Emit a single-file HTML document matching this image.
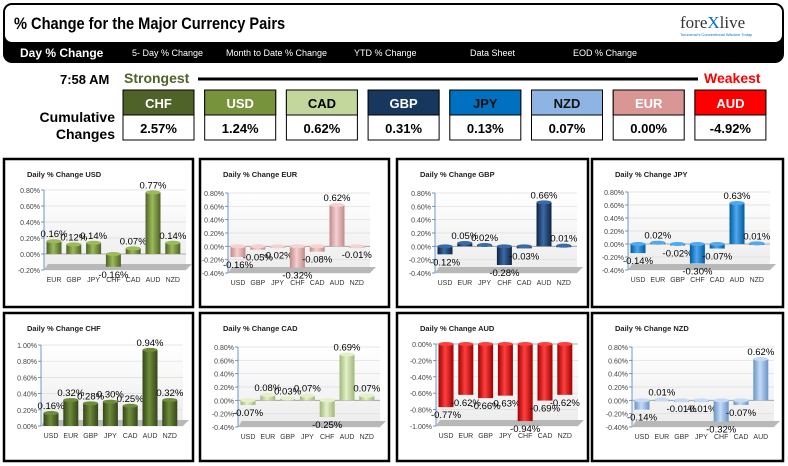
<!DOCTYPE html>
<html><head><meta charset="utf-8"><style>
body{margin:0;background:#fff;width:788px;height:466px;overflow:hidden;font-family:"Liberation Sans",sans-serif}
svg{display:block}
.cond{font-family:"Liberation Sans Narrow","Liberation Sans",sans-serif}
</style></head><body>
<svg id="s" width="788" height="466" xmlns="http://www.w3.org/2000/svg">
<defs>
<linearGradient id="plotbg" x1="0" y1="0" x2="0" y2="1"><stop offset="0" stop-color="#ffffff"/><stop offset="1" stop-color="#ececec"/></linearGradient>
</defs>
<g>
<rect x="3" y="3" width="781" height="60" rx="9" fill="#000"/>
<rect x="5" y="5" width="777" height="37" rx="7" fill="#fff"/>
<text x="14" y="29" font-size="17" font-weight="bold" transform="scale(0.86,1)" style="transform-origin:14px 29px">% Change for the Major Currency Pairs</text>
<text x="680" y="28" font-size="17" font-family="Liberation Serif,serif" fill="#333">fore<tspan fill="#0070c0">X</tspan>live</text>
<text x="680" y="36" font-size="4" fill="#0070c0">Tomorrow's Conventional Wisdom Today</text>
<g font-size="9" fill="#fff">
<text x="20" y="57" font-size="12" font-weight="bold">Day % Change</text>
<text x="132" y="56">5- Day % Change</text>
<text x="226" y="56">Month to Date % Change</text>
<text x="354" y="56">YTD % Change</text>
<text x="470" y="56">Data Sheet</text>
<text x="573" y="56">EOD % Change</text>
</g>
</g>
<g>
<text x="60" y="84" font-size="13" font-weight="bold">7:58 AM</text>
<text x="124" y="83" font-size="14" font-weight="bold" fill="#4f6228">Strongest</text>
<line x1="198" y1="79" x2="698" y2="79" stroke="#000" stroke-width="3"/>
<text x="704" y="83" font-size="14" font-weight="bold" fill="#ff0000">Weakest</text>
<text x="115" y="122" font-size="14" font-weight="bold" text-anchor="end">Cumulative</text>
<text x="115" y="139" font-size="14" font-weight="bold" text-anchor="end">Changes</text>
<g id="boxes"></g>
</g>
<g id="charts"></g>
</svg>
<script>
const NS='http://www.w3.org/2000/svg';
function mk(tag,attrs,parent){const e=document.createElementNS(NS,tag);for(const k in attrs)e.setAttribute(k,attrs[k]);parent.appendChild(e);return e;}
// ranking data
const rankCurrencies=['CHF','USD','CAD','GBP','JPY','NZD','EUR','AUD'];
const rankValues=[2.57,1.24,0.62,0.31,0.13,0.07,0.00,-4.92];
const rankColors=['#4f6228','#77933c','#c3d69b','#17375e','#0070c0','#8db4e2','#da9694','#ff0000'];
const rankText=['#fff','#fff','#000','#fff','#111','#111','#fff','#fff'];
const boxes=document.getElementById('boxes');
rankCurrencies.forEach((c,i)=>{
  const x=123+i*81.7;
  const g=mk('g',{},boxes);
  
  
  mk('rect',{x:x,y:90,width:71,height:50,fill:'#fff',stroke:'#000','stroke-width':1},g);
  mk('rect',{x:x,y:90,width:71,height:25,fill:rankColors[i],stroke:'#000','stroke-width':1},g);
  const t=mk('text',{x:x+35.5,y:108,'text-anchor':'middle','font-size':13,'font-weight':'bold',fill:rankText[i]},g);t.textContent=c;
  const v=mk('text',{x:x+35.5,y:133,'text-anchor':'middle','font-size':13,'font-weight':'bold',fill:'#000'},g);v.textContent=rankValues[i].toFixed(2)+'%';
});
// chart data
const usdCats=['EUR','GBP','JPY','CHF','CAD','AUD','NZD'];
const usdVals=[0.16,0.12,0.14,-0.16,0.07,0.77,0.14];
const eurCats=['USD','GBP','JPY','CHF','CAD','AUD','NZD'];
const eurVals=[-0.16,-0.05,-0.02,-0.32,-0.08,0.62,-0.01];
const gbpCats=['USD','EUR','JPY','CHF','CAD','AUD','NZD'];
const gbpVals=[-0.12,0.05,0.02,-0.28,-0.03,0.66,0.01];
const jpyCats=['USD','EUR','GBP','CHF','CAD','AUD','NZD'];
const jpyVals=[-0.14,0.02,-0.02,-0.30,-0.07,0.63,0.01];
const chfCats=['USD','EUR','GBP','JPY','CAD','AUD','NZD'];
const chfVals=[0.16,0.32,0.28,0.30,0.25,0.94,0.32];
const cadCats=['USD','EUR','GBP','JPY','CHF','AUD','NZD'];
const cadVals=[-0.07,0.08,0.03,0.07,-0.25,0.69,0.07];
const audCats=['USD','EUR','GBP','JPY','CHF','CAD','NZD'];
const audVals=[-0.77,-0.62,-0.66,-0.63,-0.94,-0.69,-0.62];
const nzdCats=['USD','EUR','GBP','JPY','CHF','CAD','AUD'];
const nzdVals=[-0.14,0.01,-0.01,-0.01,-0.32,-0.07,0.62];
const ticksA=[-0.2,0,0.2,0.4,0.6,0.8];
const ticksB=[-0.4,-0.2,0,0.2,0.4,0.6,0.8];
const ticksC=[0,0.2,0.4,0.6,0.8,1.0];
const ticksD=[-1.0,-0.8,-0.6,-0.4,-0.2,0];
const charts=[
 {name:'USD',px:4,py:159,ax:44,top:190,bot:270,cats:usdCats,vals:usdVals,ticks:ticksA,c1:'#4f6228',c2:'#9bbb59'},
 {name:'EUR',px:200,py:159,ax:228,top:193,bot:273,cats:eurCats,vals:eurVals,ticks:ticksB,c1:'#c08a88',c2:'#f4d0cf'},
 {name:'GBP',px:397,py:159,ax:435,top:193,bot:273,cats:gbpCats,vals:gbpVals,ticks:ticksB,c1:'#0e2440',c2:'#3a6aa5'},
 {name:'JPY',px:592,py:159,ax:628,top:192,bot:270,cats:jpyCats,vals:jpyVals,ticks:ticksB,c1:'#005a9c',c2:'#4fa8f0'},
 {name:'CHF',px:4,py:313,ax:41,top:345,bot:426,cats:chfCats,vals:chfVals,ticks:ticksC,c1:'#34461a',c2:'#6f8c3a'},
 {name:'CAD',px:200,py:313,ax:238,top:347,bot:427,cats:cadCats,vals:cadVals,ticks:ticksB,c1:'#9fb77a',c2:'#e4f0c8'},
 {name:'AUD',px:397,py:313,ax:436,top:344,bot:426,cats:audCats,vals:audVals,ticks:ticksD,c1:'#a00000',c2:'#ff4040'},
 {name:'NZD',px:592,py:313,ax:632,top:347,bot:427,cats:nzdCats,vals:nzdVals,ticks:ticksB,c1:'#6a93c8',c2:'#c5dbf5'}
];
const root=document.getElementById('charts');
charts.forEach(ch=>{
  const n=ch.name.toLowerCase();
  const g=mk('g',{},root);
  
  
  const pw=ch.px<300?189:191;
  mk('rect',{x:ch.px,y:ch.py,width:pw,height:148,fill:'#fff',stroke:'#000','stroke-width':2.5},g);
  const tt=mk('text',{x:ch.px+23,y:ch.py+18,'font-size':7.5,'font-weight':'bold',fill:'#222'},g);
  tt.textContent='Daily % Change '+ch.name;
  
  
  const tmin=ch.ticks[0],tmax=ch.ticks[ch.ticks.length-1];
  const y=v=>ch.bot-(v-tmin)/(tmax-tmin)*(ch.bot-ch.top);
  const x=i=>ch.ax+10+i*19.8;
  const right=ch.ax+142;
  mk('rect',{x:ch.ax,y:ch.top,width:right-ch.ax,height:ch.bot-ch.top,fill:'url(#plotbg)'},g);
  ch.ticks.forEach(t=>{
    mk('line',{x1:ch.ax,x2:right,y1:y(t),y2:y(t),stroke:'#dcdcdc','stroke-width':0.7},g);
    mk('line',{x1:ch.ax-3,x2:ch.ax,y1:y(t),y2:y(t),stroke:'#4a7ebb','stroke-width':0.8},g);
    const tl=mk('text',{x:ch.ax-4,y:y(t)+3,'text-anchor':'end','font-size':7,fill:'#444'},g);
    tl.textContent=t.toFixed(2)+'%';
  });
  mk('line',{x1:ch.ax,x2:ch.ax,y1:ch.top,y2:ch.bot,stroke:'#4a7ebb','stroke-width':0.8},g);
  mk('polygon',{points:`${ch.ax},${ch.bot} ${ch.ax+4},${ch.bot-6} ${right+6},${ch.bot-6} ${right},${ch.bot}`,fill:'#b8b8b8'},g);
  if(tmin<0) mk('line',{x1:ch.ax,x2:right,y1:y(0),y2:y(0),stroke:'#999','stroke-width':0.8},g);
  const gid='grad-'+n;
  const lg=mk('linearGradient',{id:gid,x1:0,y1:0,x2:1,y2:0},g);
  mk('stop',{offset:0,'stop-color':ch.c1},lg);mk('stop',{offset:0.45,'stop-color':ch.c2},lg);mk('stop',{offset:1,'stop-color':ch.c1},lg);
  ch.vals.forEach((v,i)=>{
    const cx=x(i),y0=y(0),yv=y(v),w=15;
    const top=Math.min(y0,yv),h=Math.abs(y0-yv);
    const bar=mk('rect',{x:cx-w/2,y:top,width:w,height:Math.max(h,1.5),fill:'url(#'+gid+')'},g);
    
    
    mk('ellipse',{cx:cx,cy:top,rx:w/2,ry:2,fill:ch.c2},g);
    const lbl=mk('text',{x:cx,y:v>=0?yv-4:yv+11,'text-anchor':'middle','font-size':9.5,fill:'#000'},g);
    lbl.textContent=v.toFixed(2)+'%';
    const cl=mk('text',{x:cx,y:ch.bot+12,'text-anchor':'middle','font-size':7,fill:'#333'},g);
    cl.textContent=ch.cats[i];
  });
});
</script>
</body></html>
